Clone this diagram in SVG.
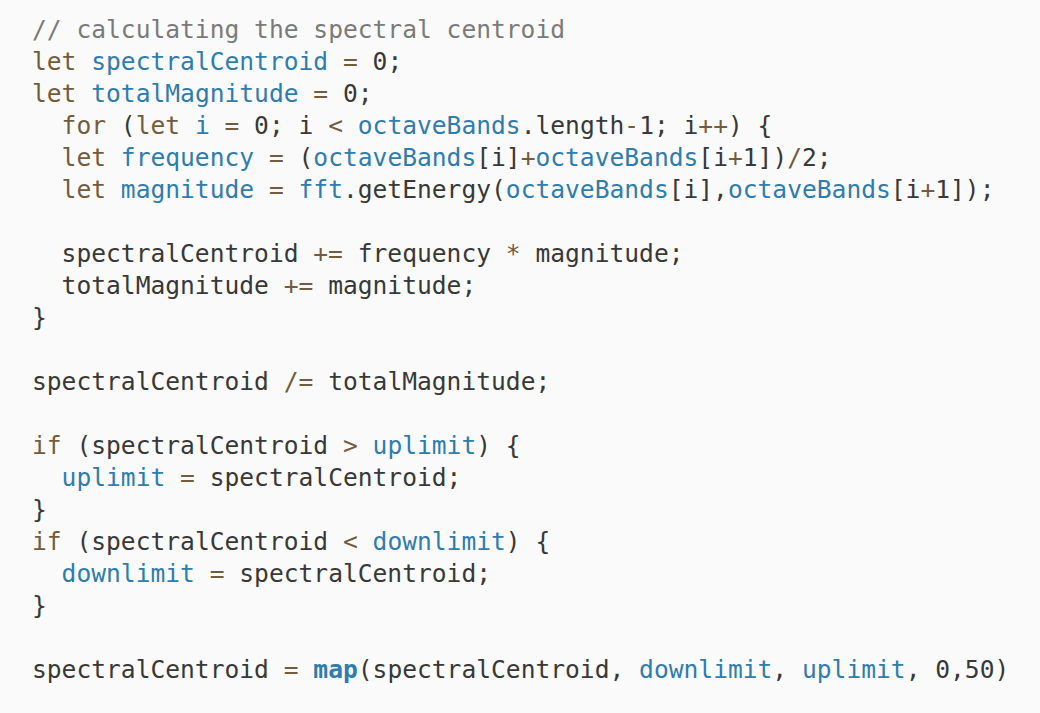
<svg xmlns="http://www.w3.org/2000/svg" width="1040" height="713" viewBox="0 0 1040 713">
<style>
text{font-family:"DejaVu Sans Mono","Liberation Mono",monospace;font-size:24.6px;fill:#383838;white-space:pre}
.c{fill:#7a7a7a}
.k{fill:#735c3e}
.o{fill:#735c3e}
.v{fill:#2f7cae}
.b{font-weight:bold}
</style>
<rect width="1040" height="713" fill="#fafafa"/>
<g id="code">
<text x="32" y="38" class="c">// calculating the spectral centroid</text>
<text x="32" y="70"><tspan class="k">let</tspan> <tspan class="v">spectralCentroid</tspan> <tspan class="o">=</tspan> 0;</text>
<text x="32" y="102"><tspan class="k">let</tspan> <tspan class="v">totalMagnitude</tspan> <tspan class="o">=</tspan> 0;</text>
<text x="61.6" y="134"><tspan class="k">for</tspan> (<tspan class="k">let</tspan> <tspan class="v">i</tspan> <tspan class="o">=</tspan> 0; i <tspan class="o">&lt;</tspan> <tspan class="v">octaveBands</tspan>.length<tspan class="o">-</tspan>1; i<tspan class="o">++</tspan>) {</text>
<text x="61.6" y="166"><tspan class="k">let</tspan> <tspan class="v">frequency</tspan> <tspan class="o">=</tspan> (<tspan class="v">octaveBands</tspan>[i]<tspan class="o">+</tspan><tspan class="v">octaveBands</tspan>[i<tspan class="o">+</tspan>1])<tspan class="o">/</tspan>2;</text>
<text x="61.6" y="198"><tspan class="k">let</tspan> <tspan class="v">magnitude</tspan> <tspan class="o">=</tspan> <tspan class="v">fft</tspan>.getEnergy(<tspan class="v">octaveBands</tspan>[i],<tspan class="v">octaveBands</tspan>[i<tspan class="o">+</tspan>1]);</text>
<text x="61.6" y="262">spectralCentroid <tspan class="o">+=</tspan> frequency <tspan class="o">*</tspan> magnitude;</text>
<text x="61.6" y="294">totalMagnitude <tspan class="o">+=</tspan> magnitude;</text>
<text x="32" y="326">}</text>
<text x="32" y="390">spectralCentroid <tspan class="o">/=</tspan> totalMagnitude;</text>
<text x="32" y="454"><tspan class="k">if</tspan> (spectralCentroid <tspan class="o">&gt;</tspan> <tspan class="v">uplimit</tspan>) {</text>
<text x="61.6" y="486"><tspan class="v">uplimit</tspan> <tspan class="o">=</tspan> spectralCentroid;</text>
<text x="32" y="518">}</text>
<text x="32" y="550"><tspan class="k">if</tspan> (spectralCentroid <tspan class="o">&lt;</tspan> <tspan class="v">downlimit</tspan>) {</text>
<text x="61.6" y="582"><tspan class="v">downlimit</tspan> <tspan class="o">=</tspan> spectralCentroid;</text>
<text x="32" y="614">}</text>
<text x="32" y="678">spectralCentroid <tspan class="o">=</tspan> <tspan class="v b">map</tspan>(spectralCentroid, <tspan class="v">downlimit</tspan>, <tspan class="v">uplimit</tspan>, 0,50)</text>
</g>
</svg>
